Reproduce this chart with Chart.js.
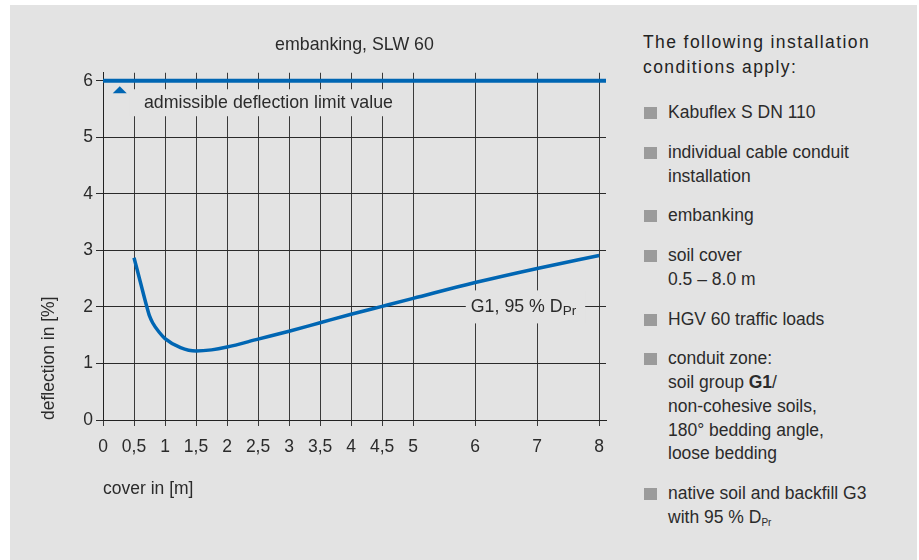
<!DOCTYPE html>
<html>
<head>
<meta charset="utf-8">
<script src="https://cdn.jsdelivr.net/npm/chart.js@4"></script>
<style>
html, body { margin:0; padding:0; background:#fff; }
body { width:919px; height:560px; position:relative; overflow:hidden; font-family:"Liberation Sans", Arial, sans-serif; color:#2b2b2b; }
#bg { position:absolute; left:10px; top:5px; width:907px; height:555px; background:#e3e3e3; }
#wrap { position:absolute; left:0; top:0; width:620px; height:520px; }
#panel { position:absolute; left:643px; top:30px; font-size:17.5px; }
.head { line-height:25px; letter-spacing:1.4px; font-size:17.5px; color:#222; }
ul { list-style:none; margin:21px 0 0 0; padding:0; }
li { position:relative; padding-left:25px; line-height:23.75px; margin-bottom:16px; }
li::before { content:''; position:absolute; left:1px; top:6px; width:13px; height:12px; background:#9b9b9b; }
sub { font-size:10px; vertical-align:-3px; line-height:0; }
</style>
</head>
<body>
<div id="bg"></div>
<div id="wrap"><canvas id="chart"></canvas></div>
<div id="panel">
  <div class="head">The following installation<br>conditions apply:</div>
  <ul>
    <li>Kabuflex S DN 110</li>
    <li>individual cable conduit<br>installation</li>
    <li>embanking</li>
    <li>soil cover<br>0.5 – 8.0 m</li>
    <li>HGV 60 traffic loads</li>
    <li>conduit zone:<br>soil group <b>G1</b>/<br>non-cohesive soils,<br>180° bedding angle,<br>loose bedding</li>
    <li>native soil and backfill G3<br>with 95 % D<sub>Pr</sub></li>
  </ul>
</div>
<script>
// cover [m] vs deflection [%]
const coverX = [0.5, 0.6, 0.7, 0.75, 0.8, 0.9, 1.0, 1.25, 1.5, 1.75, 2, 2.5, 3, 3.5, 4, 4.5, 5, 6, 7, 8];
const deflectionG1 = [2.87, 2.45, 2.03, 1.84, 1.72, 1.56, 1.44, 1.28, 1.22, 1.24, 1.29, 1.43, 1.57, 1.72, 1.87, 2.01, 2.15, 2.43, 2.68, 2.91];

// admissible deflection limit
const limitX = [0, 8.11];
const limitY = [6, 6];

const xTicks = [0, 0.5, 1, 1.5, 2, 2.5, 3, 3.5, 4, 4.5, 5, 6, 7, 8];
const yTicks = [0, 1, 2, 3, 4, 5, 6];

const BLUE = '#0066b3';
const BG = '#e3e3e3';
const TXT = '#2b2b2b';
const FAMILY = "'Liberation Sans', Arial, sans-serif";

Chart.defaults.font.family = FAMILY;
Chart.defaults.font.size = 17.5;
Chart.defaults.color = TXT;

function toXY(xs, ys) {
    return xs.map((x, i) => ({ x: x, y: ys[i] }));
}

function fmt(v) {
    return String(v).replace('.', ',');
}

// labels sitting on the grid with a background box, plus the small triangle
const labelPlugin = {
    id: 'labels',
    beforeDatasetsDraw(chart) {
        const ctx = chart.ctx;
        const sx = chart.scales.x, sy = chart.scales.y;
        ctx.save();

        // "admissible deflection limit value"
        let px = sx.getPixelForValue(0.66), py = sy.getPixelForValue(5.61);
        ctx.font = '17.8px ' + FAMILY;
        let w = ctx.measureText('admissible deflection limit value').width;
        ctx.fillStyle = BG;
        ctx.fillRect(px - 14, py - 13.5, w + 22, 27);
        ctx.fillStyle = TXT;
        ctx.textBaseline = 'middle';
        ctx.fillText('admissible deflection limit value', px, py);

        // "G1, 95 % DPr"
        px = sx.getPixelForValue(5.93); py = sy.getPixelForValue(2.0);
        const main = 'G1, 95 % D';
        w = ctx.measureText(main).width;
        ctx.font = '13.5px ' + FAMILY;
        const ws = ctx.measureText('Pr').width;
        ctx.fillStyle = BG;
        ctx.fillRect(px - 5, py - 16.5, w + ws + 14, 33);
        ctx.fillStyle = TXT;
        ctx.fillText('Pr', px + w, py + 4);
        ctx.font = '17.8px ' + FAMILY;
        ctx.fillText(main, px, py);

        // triangle marker under the limit line
        px = sx.getPixelForValue(0.27); py = sy.getPixelForValue(5.84);
        ctx.fillStyle = BLUE;
        ctx.beginPath();
        ctx.moveTo(px - 7, py + 3.5);
        ctx.lineTo(px + 7, py + 3.5);
        ctx.lineTo(px, py - 3.5);
        ctx.closePath();
        ctx.fill();
        ctx.restore();
    }
};

new Chart(document.getElementById('chart'), {
    type: 'scatter',
    data: {
        datasets: [{
            label: 'limit',
            data: toXY(limitX, limitY),
            showLine: true,
            borderColor: BLUE,
            borderWidth: 4,
            pointRadius: 0
        }, {
            label: 'G1, 95 % DPr',
            data: toXY(coverX, deflectionG1),
            showLine: true,
            borderColor: BLUE,
            borderWidth: 3.5,
            pointRadius: 0,
            cubicInterpolationMode: 'monotone'
        }]
    },
    options: {
        responsive: true,
        maintainAspectRatio: false,
        animation: false,
        layout: { padding: { left: 0, right: 14, top: 0, bottom: 0 } },
        plugins: {
            legend: { display: false },
            tooltip: { enabled: false },
            title: {
                display: true,
                text: 'embanking, SLW 60',
                fullSize: false,
                color: TXT,
                font: { size: 17.8, weight: 'normal' },
                padding: { top: 34, bottom: 17.4 }
            }
        },
        scales: {
            x: {
                type: 'linear',
                min: 0,
                max: 8.11,
                afterBuildTicks: s => { s.ticks = xTicks.map(v => ({ value: v })); },
                afterFit: s => { s.height = 100; },
                grid: { color: '#3a3a3a', lineWidth: 1, tickLength: 6 },
                border: { color: '#222', width: 1 },
                ticks: { padding: 11, autoSkip: false, maxRotation: 0, callback: v => fmt(v) },
                title: { display: true, text: 'cover in [m]', align: 'start', color: TXT, padding: { top: 0, bottom: 20 } }
            },
            y: {
                type: 'linear',
                min: 0,
                max: 6.14,
                afterBuildTicks: s => { s.ticks = yTicks.map(v => ({ value: v })); },
                afterFit: s => { s.width = 103; },
                grid: { color: '#2a2a2a', lineWidth: 1, tickLength: 7 },
                border: { color: '#222', width: 1 },
                ticks: { padding: 3, callback: v => fmt(v) },
                title: { display: true, text: 'deflection in [%]', align: 'start', color: TXT, padding: { top: 39 } }
            }
        }
    },
    plugins: [labelPlugin]
});
</script>
</body>
</html>
